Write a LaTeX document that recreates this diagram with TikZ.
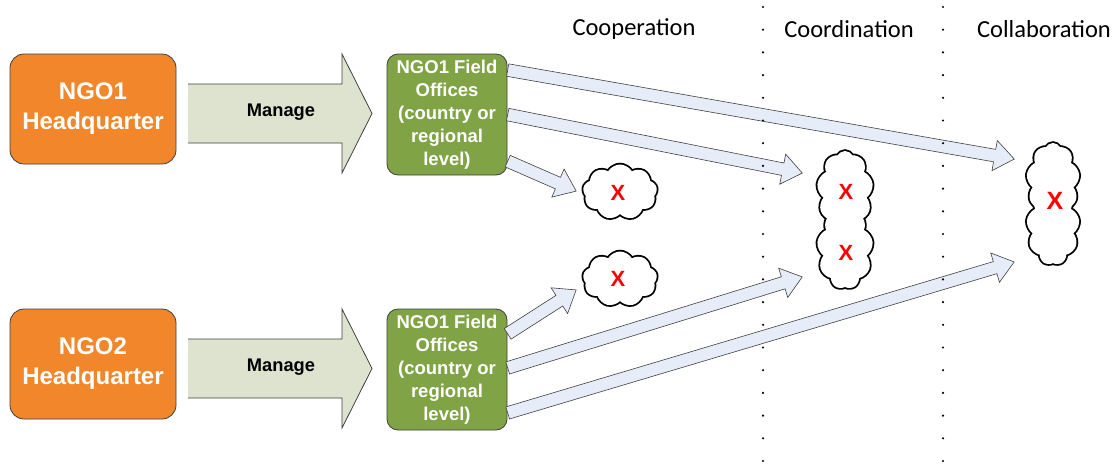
\documentclass[tikz,border=0pt]{standalone}
\usepackage{fontspec}
\setmainfont{Liberation Sans}
\newfontfamily\calibri{Carlito}
\usetikzlibrary{shapes.arrows,shapes.symbols,calc}

\definecolor{hqorange}{HTML}{F1862A}
\definecolor{fieldgreen}{HTML}{7FA345}
\definecolor{managefill}{HTML}{DDE3CE}
\definecolor{flowfill}{HTML}{E6EDF8}
\definecolor{edgegray}{HTML}{404040}

\tikzset{
  hq/.style={draw=edgegray, line width=0.8pt, fill=hqorange, rounded corners=14pt,
    minimum width=166pt, minimum height=110pt, inner sep=0pt, text=white,
    font=\fontsize{24}{30}\selectfont\bfseries, align=center},
  field/.style={draw=edgegray, line width=0.8pt, fill=fieldgreen, rounded corners=11pt,
    minimum width=120pt, minimum height=121pt, inner sep=0pt, text=white,
    font=\fontsize{18.5}{23}\selectfont\bfseries, align=center},
  managetext/.style={font=\fontsize{18.3}{20}\selectfont\bfseries},
  cloudpart/.style={cloud, cloud puffs=#1, cloud puff arc=120, cloud ignores aspect,
    inner sep=0pt, outer sep=0pt},
  cloudline/.style={cloudpart=#1, draw, line width=3.6pt},
  cloudfill/.style={cloudpart=#1, fill=white},
  xmark/.style={text=red, inner sep=0pt, font=\fontsize{#1}{#1}\selectfont\bfseries},
  header/.style={font=\calibri\fontsize{24.5}{28}\selectfont},
  flow/.style={single arrow, draw=edgegray, line width=0.6pt, fill=flowfill,
    inner xsep=0pt, inner ysep=6pt, text height=0pt, text depth=0pt, text width=0pt,
    single arrow head extend=9pt, single arrow tip angle=75, single arrow head indent=0pt}
}

% block arrow from a point on a box to a named tip
\newcommand{\flowarrow}[2]{%
  \path let \p1=(#1), \p2=(#2),
    \n1={atan2(\y2-\y1,\x2-\x1)}, \n2={veclen(\x2-\x1,\y2-\y1)} in
    node[flow, minimum height=\n2, rotate=\n1, anchor=tail] at (\p1) {};}

\begin{document}
\begin{tikzpicture}[x=1pt, y=-1pt]
  \useasboundingbox (0,0) rectangle (1119,464);

  % headquarters
  \node[hq] (hqa) at (93,109) {NGO1\\Headquarter};
  \node[hq] (hqb) at (93,364) {NGO2\\Headquarter};

  % manage arrows
  \fill[managefill] (188,84) -- (342,84) -- (342,54) -- (372,113.5) -- (342,173) -- (342,143) -- (188,143) -- cycle;
  \draw[edgegray, line width=0.8pt] (188,84) -- (342,84) -- (342,54) -- (372,113.5) -- (342,173) -- (342,143) -- (188,143);
  \node[managetext] (ma) at (281,112) {Manage};

  \fill[managefill] (188,339) -- (342,339) -- (342,309) -- (372,368.5) -- (342,428) -- (342,398) -- (188,398) -- cycle;
  \draw[edgegray, line width=0.8pt] (188,339) -- (342,339) -- (342,309) -- (372,368.5) -- (342,428) -- (342,398) -- (188,398);
  \node[managetext] (mb) at (281,367) {Manage};

  % field offices
  \node[field] (fielda) at (447,114.5) {NGO1 Field\\Offices\\(country or\\regional\\level)};
  \node[field] (fieldb) at (447,369.5) {NGO1 Field\\Offices\\(country or\\regional\\level)};

  % column headers
  \node[header] (coophead) at (634,29) {Cooperation};
  \node[header] (coordhead) at (849,29) {Coordination};
  \node[header] (collabhead) at (1044,29) {Collaboration};

  % clouds: thick outline first, white fill on top leaves the outer half
  \node[cloudline=9, minimum width=74pt, minimum height=55pt] (coopa) at (620,192) {};
  \node[cloudline=9, minimum width=74pt, minimum height=55pt] (coopb) at (620,279) {};
  \node[cloudline=9, minimum width=56pt, minimum height=80pt] (coordtop) at (845,191) {};
  \node[cloudline=9, minimum width=56pt, minimum height=80pt] (coordbot) at (845,249) {};
  \node[cloudline=9, minimum width=53pt, minimum height=76pt] (collabtop) at (1053,181) {};
  \node[cloudline=9, minimum width=53pt, minimum height=76pt] (collabbot) at (1053,227) {};

  \node[cloudfill=9, minimum width=74pt, minimum height=55pt] (coopafill) at (620,192) {};
  \node[cloudfill=9, minimum width=74pt, minimum height=55pt] (coopbfill) at (620,279) {};
  \node[cloudfill=9, minimum width=56pt, minimum height=80pt] (coordtopfill) at (845,191) {};
  \node[cloudfill=9, minimum width=56pt, minimum height=80pt] (coordbotfill) at (845,249) {};
  \node[cloudfill=9, minimum width=53pt, minimum height=76pt] (collabtopfill) at (1053,181) {};
  \node[cloudfill=9, minimum width=53pt, minimum height=76pt] (collabbotfill) at (1053,227) {};

  \node[xmark=22] (xa) at (618,193) {X};
  \node[xmark=22] (xb) at (618,279) {X};
  \node[xmark=22] (xc) at (846,192) {X};
  \node[xmark=22] (xd) at (846,253) {X};
  \node[xmark=25] (xe) at (1055,201) {X};

  % arrow tips
  \coordinate (tipa) at (1014,159);
  \coordinate (tipb) at (802,173);
  \coordinate (tipc) at (576,191);
  \coordinate (tipd) at (576,290);
  \coordinate (tipe) at (802,277);
  \coordinate (tipf) at (1014,262);

  \flowarrow{[yshift=44.5pt]fielda.east}{tipa}
  \flowarrow{fielda.east}{tipb}
  \flowarrow{[yshift=-46.5pt]fielda.east}{tipc}
  \flowarrow{[yshift=35.5pt]fieldb.east}{tipd}
  \flowarrow{[yshift=1.5pt]fieldb.east}{tipe}
  \flowarrow{[yshift=-43.5pt]fieldb.east}{tipf}

  % dotted separators
  \foreach \i in {0,...,20} {
    \fill (763,7+22.7*\i) circle (1.2pt);
    \fill (943,7+22.7*\i) circle (1.2pt);
  }
\end{tikzpicture}
\end{document}
